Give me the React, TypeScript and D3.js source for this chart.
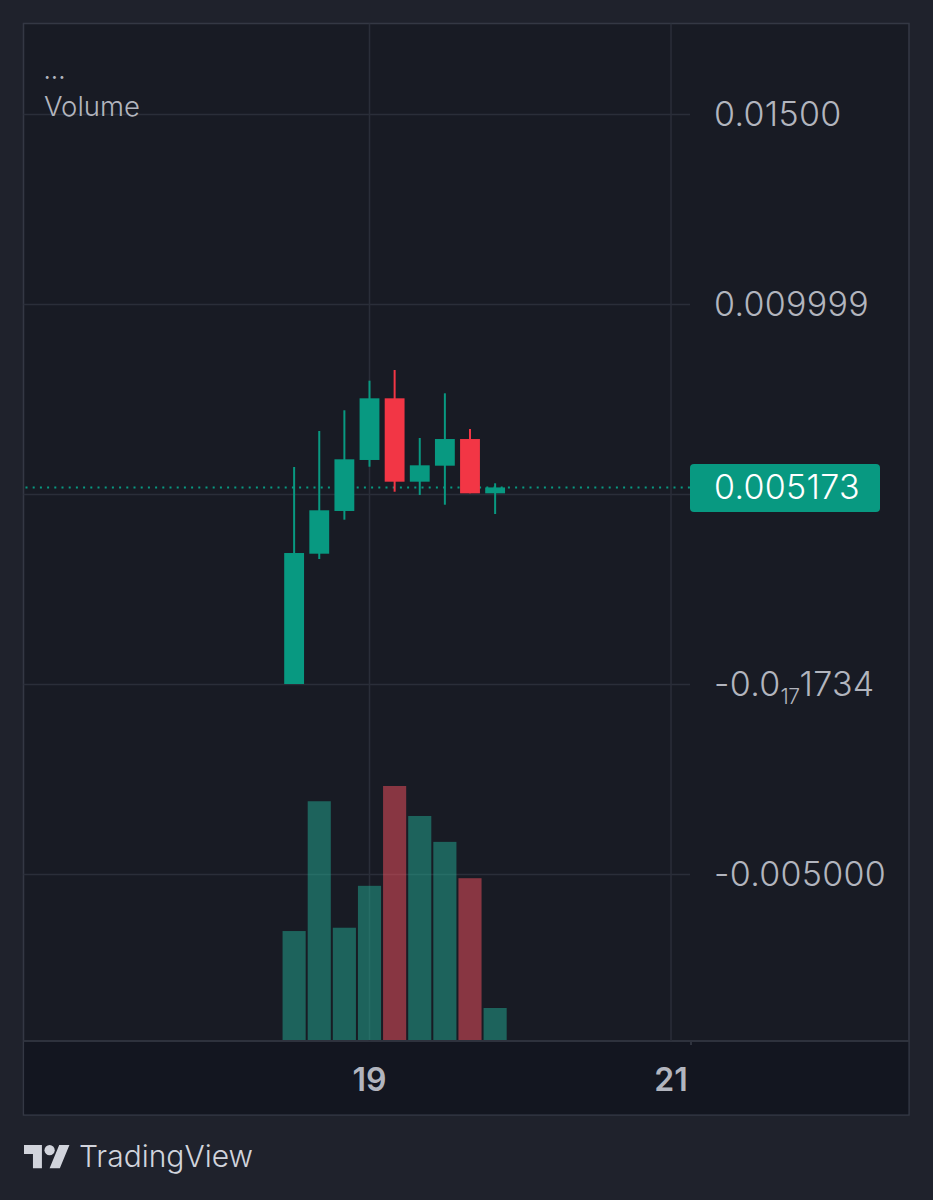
import React from "react";
import * as d3 from "d3";

const times = [
  "2024-03-18T12:00:00Z",
  "2024-03-18T16:00:00Z",
  "2024-03-18T20:00:00Z",
  "2024-03-19T00:00:00Z",
  "2024-03-19T04:00:00Z",
  "2024-03-19T08:00:00Z",
  "2024-03-19T12:00:00Z",
  "2024-03-19T16:00:00Z",
  "2024-03-19T20:00:00Z",
];
const opens = [0.0, 0.003429, 0.004553, 0.005895, 0.007518, 0.005324, 0.005745, 0.006447, 0.005018];
const highs = [0.00571, 0.006658, 0.007203, 0.007982, 0.008263, 0.006474, 0.00765, 0.006711, 0.005282];
const lows = [0.0, 0.003289, 0.004324, 0.005718, 0.00506, 0.004974, 0.004718, 0.005018, 0.004474];
const closes = [0.003447, 0.004571, 0.005913, 0.007518, 0.005324, 0.005755, 0.006447, 0.005018, 0.005173];
const volumes = [4290, 9400, 4420, 6070, 10000, 8820, 7800, 6370, 1260];

const priceTicks = [0.015, 0.009999, 0.005, -1.734e-18, -0.005];
const priceTickLabels = ["0.01500", "0.009999", "", "-0.0|17|1734", "-0.005000"];
const timeTicks = ["2024-03-19T00:00:00Z", "2024-03-21T00:00:00Z"];
const timeTickLabels = ["19", "21"];
const lastPrice = 0.005173;
const lastPriceLabel = "0.005173";

const UP = "#089981";
const DOWN = "#f23645";
const UP_VOL = "rgba(34,171,148,0.5)";
const DOWN_VOL = "rgba(247,82,95,0.5)";
const GRID = "#2a2e39";
const FONT = "Inter, 'Noto Sans', sans-serif";

export default function App() {
  const W = 933;
  const H = 1200;
  const panel = { x0: 23.5, y0: 23.5, x1: 909, y1: 1115 };
  const plotRight = 690;
  const plotBottom = 1041;

  const x = d3
    .scaleUtc()
    .domain([new Date(timeTicks[0]), new Date(timeTicks[1])])
    .range([369.5, 671]);
  const y = d3.scaleLinear().domain([0, 0.015]).range([684, 114]);
  const yv = d3.scaleLinear().domain([0, 10000]).range([1040, 786]);

  const dates = times.map((t) => new Date(t));
  const step = x(dates[1]) - x(dates[0]);
  const bodyW = step * 0.79;
  const volW = step * 0.92;

  return (
    <svg
      width={W}
      height={H}
      style={{ position: "absolute", left: 0, top: 0, display: "block" }}
      fontFamily={FONT}
    >
      <rect x={0} y={0} width={W} height={H} fill="#1f222c" />
      <rect
        x={panel.x0}
        y={panel.y0}
        width={panel.x1 - panel.x0}
        height={panel.y1 - panel.y0}
        fill="#181b24"
        stroke="#343844"
        strokeWidth={1.5}
      />
      {/* time axis area */}
      <rect
        x={panel.x0 + 0.75}
        y={plotBottom}
        width={panel.x1 - panel.x0 - 1.5}
        height={panel.y1 - plotBottom - 0.75}
        fill="#131620"
      />
      <line x1={panel.x0} x2={panel.x1} y1={plotBottom} y2={plotBottom} stroke="#2e323d" strokeWidth={2} />
      <line x1={plotRight + 1} x2={plotRight + 1} y1={plotBottom} y2={plotBottom + 4} stroke="#2e323d" strokeWidth={2} />

      {/* horizontal grid */}
      {priceTicks.map((v, i) => (
        <line
          key={"hg" + i}
          x1={panel.x0}
          x2={plotRight}
          y1={Math.round(y(v)) + 0.5}
          y2={Math.round(y(v)) + 0.5}
          stroke={GRID}
          strokeWidth={1.5}
        />
      ))}
      {/* vertical grid */}
      {timeTicks.map((t, i) => (
        <line
          key={"vg" + i}
          x1={x(new Date(t))}
          x2={x(new Date(t))}
          y1={panel.y0}
          y2={plotBottom}
          stroke={GRID}
          strokeWidth={1.5}
        />
      ))}

      {/* volume bars */}
      {dates.map((d, i) => (
        <rect
          key={"v" + i}
          x={x(d) - volW / 2}
          y={yv(volumes[i])}
          width={volW}
          height={yv(0) - yv(volumes[i])}
          fill={closes[i] >= opens[i] ? UP_VOL : DOWN_VOL}
        />
      ))}

      {/* last price dotted line */}
      <line
        x1={panel.x0 + 2}
        x2={plotRight}
        y1={y(lastPrice)}
        y2={y(lastPrice)}
        stroke={UP}
        strokeWidth={2}
        strokeDasharray="2 5.2"
      />

      {/* candles */}
      {dates.map((d, i) => {
        const up = closes[i] >= opens[i];
        const c = up ? UP : DOWN;
        const top = y(Math.max(opens[i], closes[i]));
        const bot = y(Math.min(opens[i], closes[i]));
        const cx = x(d);
        return (
          <g key={"c" + i}>
            <line x1={cx} x2={cx} y1={y(highs[i])} y2={y(lows[i])} stroke={c} strokeWidth={2} />
            <rect x={cx - bodyW / 2} y={top} width={bodyW} height={Math.max(2, bot - top)} fill={c} />
          </g>
        );
      })}

      {/* legend */}
      <text x={44} y={79} fill="#b2b5be" fontSize={22} letterSpacing={1}>
        ...
      </text>
      <text x={44} y={116} fill="#b2b5be" fontSize={27.5} fontWeight={300}>
        Volume
      </text>

      {/* price axis labels */}
      {priceTicks.map((v, i) => {
        const lab = priceTickLabels[i];
        if (!lab) return null;
        const yy = y(v) + 12;
        if (lab.includes("|")) {
          const parts = lab.split("|");
          return (
            <text key={"pl" + i} x={714} y={yy} fill="#b2b5be" fontSize={34} fontWeight={300} letterSpacing={0.3}>
              {parts[0]}
              <tspan fontSize={21} dy={8} letterSpacing={-0.5}>
                {parts[1]}
              </tspan>
              <tspan dy={-8}>{parts[2]}</tspan>
            </text>
          );
        }
        return (
          <text key={"pl" + i} x={714} y={yy} fill="#b2b5be" fontSize={34} fontWeight={300} letterSpacing={0.3}>
            {lab}
          </text>
        );
      })}

      {/* last price label */}
      <rect x={690} y={464} width={190} height={48} rx={4} fill={UP} />
      <text x={714} y={y(lastPrice) + 12} fill="#ffffff" fontSize={34} fontWeight={300} letterSpacing={0.3}>
        {lastPriceLabel}
      </text>

      {/* time axis labels */}
      {timeTicks.map((t, i) => (
        <text
          key={"tl" + i}
          x={x(new Date(t))}
          y={1091}
          fill="#b2b5be"
          fontSize={32}
          fontWeight={600}
          textAnchor="middle"
        >
          {timeTickLabels[i]}
        </text>
      ))}

      {/* TradingView logo */}
      <g transform="translate(24,1140) scale(1.28)" fill="#d1d4dc">
        <path d="M14 22H7V11H0V4h14v18zM28 22h-8l7.5-18h8L28 22z" />
        <circle cx={20} cy={8} r={4} />
      </g>
      <text x={79} y={1167} fill="#d1d4dc" fontSize={30} fontWeight={300}>
        TradingView
      </text>
    </svg>
  );
}
